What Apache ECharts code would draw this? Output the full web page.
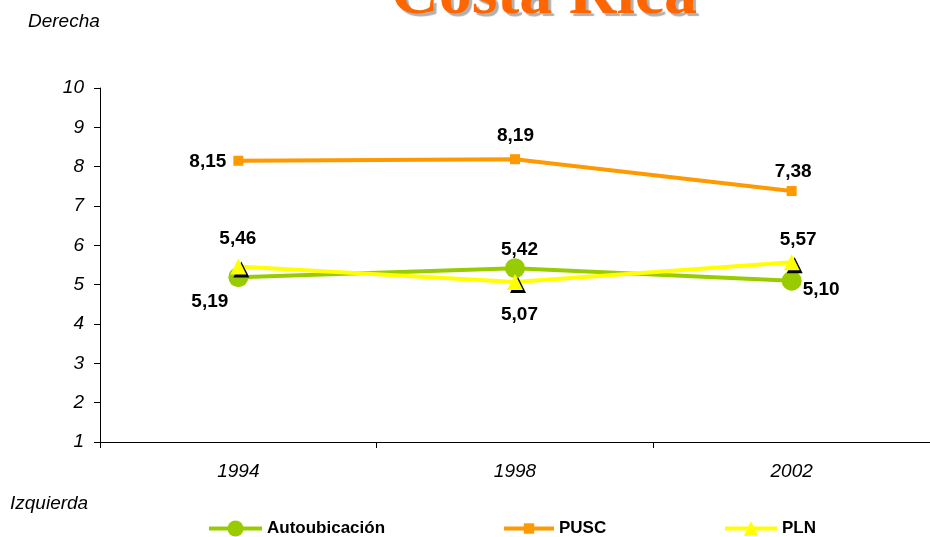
<!DOCTYPE html>
<html><head><meta charset="utf-8">
<script src="https://cdn.jsdelivr.net/npm/echarts@6/dist/echarts.min.js"></script>
<style>html,body{margin:0;padding:0;background:#fff}#c{width:930px;height:537px}</style>
</head><body><div id="c"></div>
<script>
const categories = ['1994', '1998', '2002'];
const autoubicacion = [5.19, 5.42, 5.10];
const pusc = [8.15, 8.19, 7.38];
const pln = [5.46, 5.07, 5.57];
const yTicks = [1, 10, 1];

const chart = echarts.init(document.getElementById('c'));
const fmt = p => p.value.toFixed(2).replace('.', ',');
const lblBase = {show: true, formatter: fmt, fontFamily: 'Liberation Sans', fontWeight: 'bold', fontSize: 19, color: '#000', align: 'left', verticalAlign: 'top'};
function lbls(arr, pos) {
  return arr.map((v, i) => ({value: v, label: Object.assign({}, lblBase, {position: pos[i]})}));
}
const legText = {fontWeight: 'bold', fontSize: 17, color: '#000'};
chart.setOption({
  animation: false,
  textStyle: {fontFamily: 'Liberation Sans'},
  grid: {left: 100, right: -2, top: 88, bottom: 95},
  graphic: [
    {type: 'text', left: 391, top: -37, z: 10, style: {text: 'Costa Rica', font: 'bold 66px "Liberation Serif"', fill: '#FF6600', textShadowColor: '#B0B0B0', textShadowOffsetX: 3, textShadowOffsetY: 3, textShadowBlur: 1}},
    {type: 'text', left: 28, top: 12, style: {text: 'Derecha', font: 'italic 19px "Liberation Sans"', fill: '#000'}},
    {type: 'text', left: 10, top: 494, style: {text: 'Izquierda', font: 'italic 19px "Liberation Sans"', fill: '#000'}}
  ],
  xAxis: {
    type: 'category', data: categories, boundaryGap: true,
    axisLine: {lineStyle: {color: '#000', width: 1}},
    axisTick: {show: true, length: 6, lineStyle: {color: '#000'}},
    axisLabel: {fontStyle: 'italic', fontSize: 19, color: '#000', margin: 20}
  },
  yAxis: {
    type: 'value', min: yTicks[0], max: yTicks[1], interval: yTicks[2],
    axisLine: {show: true, lineStyle: {color: '#000', width: 1}},
    axisTick: {show: true, length: 6, lineStyle: {color: '#000'}},
    splitLine: {show: false},
    axisLabel: {fontStyle: 'italic', fontSize: 19, color: '#000', margin: 16}
  },
  legend: [
    {data: ['Autoubicación'], left: 202, top: 515, itemWidth: 53, itemHeight: 20, itemGap: 4, lineStyle: {width: 4}, textStyle: legText},
    {data: ['PUSC'], left: 497, top: 515, itemWidth: 50, itemHeight: 13, lineStyle: {width: 4}, textStyle: legText},
    {data: ['PLN'], left: 718, top: 515, itemWidth: 52, itemHeight: 18, lineStyle: {width: 4}, textStyle: legText}
  ],
  series: [
    {name: 'Autoubicación', type: 'line', z: 3,
     data: lbls(autoubicacion, [[-37, 25], [-4, -18], [21, 10]]),
     symbol: 'circle', symbolSize: 20,
     itemStyle: {color: '#99CC00'}, lineStyle: {color: '#99CC00', width: 4}},
    {name: 'PUSC', type: 'line', z: 2,
     data: lbls(pusc, [[-44, -4], [-13, -28], [-12, -24]]),
     symbol: 'rect', symbolSize: 10,
     itemStyle: {color: '#FF9900'}, lineStyle: {color: '#FF9900', width: 4}},
    {name: 'PLN', type: 'line', z: 4,
     data: lbls(pln, [[-11, -29], [-6, 31], [-4, -24]]),
     symbol: 'triangle', symbolSize: 16,
     itemStyle: {color: '#FFFF00', shadowColor: '#000', shadowOffsetX: 3, shadowOffsetY: 3, shadowBlur: 0},
     lineStyle: {color: '#FFFF00', width: 4}}
  ]
});
</script></body></html>
